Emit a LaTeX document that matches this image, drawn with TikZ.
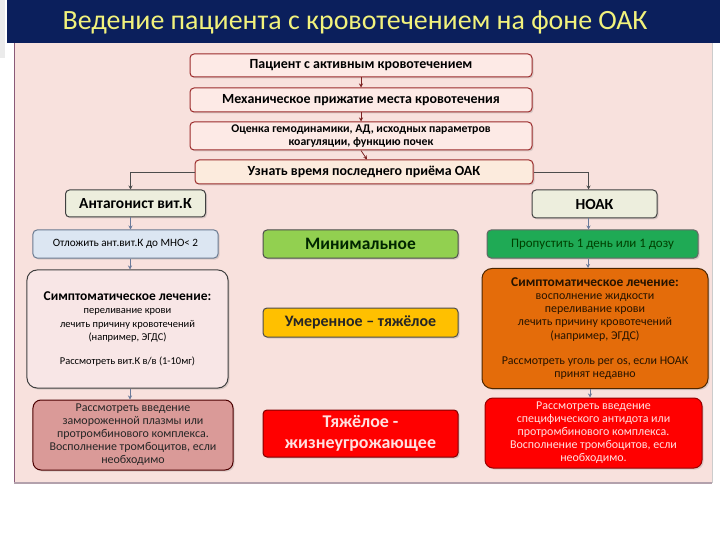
\documentclass[tikz,border=0pt]{standalone}
\usepackage{fontspec}
\setmainfont{Carlito}
\usetikzlibrary{arrows.meta,shadows}
\definecolor{banner}{HTML}{0B1F5C}
\definecolor{titletxt}{HTML}{F2F27C}
\definecolor{panel}{HTML}{F8E1DD}
\definecolor{panelline}{HTML}{8A5A78}
\definecolor{topfill}{HTML}{FDEAE6}
\definecolor{topline}{HTML}{9B2B2B}
\definecolor{askfill}{HTML}{FCEBDD}
\definecolor{drugfill}{HTML}{EDEEDD}
\definecolor{bluefill}{HTML}{DCE6F2}
\definecolor{bluebord}{HTML}{6A7A90}
\definecolor{greenfill}{HTML}{1FAA55}
\definecolor{minfill}{HTML}{92D050}
\definecolor{modfill}{HTML}{FFC000}
\definecolor{sevfill}{HTML}{FF0000}
\definecolor{lightsym}{HTML}{F8E6E6}
\definecolor{orangefill}{HTML}{E46C0A}
\definecolor{rosefill}{HTML}{DA9A98}
\definecolor{redtxt}{HTML}{FFE0E0}
\definecolor{arrcol}{HTML}{6A7A9A}
\tikzset{
  base/.style={draw, rounded corners=4bp, line width=1bp, align=center, inner sep=2bp,
    drop shadow={opacity=0.25, shadow xshift=1.5bp, shadow yshift=-1.5bp}},
  topbox/.style={base, fill=topfill, draw=topline, font=\fontsize{14}{15}\selectfont\bfseries},
  drugbox/.style={base, fill=drugfill, draw=black!75, font=\fontsize{15.5}{17}\selectfont\bfseries},
  sevbox/.style={base, draw=black!70, font=\fontsize{17.5}{19}\selectfont\bfseries},
  txtbox/.style={base, font=\fontsize{10.5}{13.5}\selectfont},
  bigbox/.style={base, rounded corners=10bp, font=\fontsize{10.5}{13.3}\selectfont},
  arr/.style={draw=arrcol, line width=0.8bp, -{Stealth[length=4bp,width=4bp]}},
  redarr/.style={draw=topline!80!black, line width=0.8bp, -{Stealth[length=4bp,width=4bp]}},
  branch/.style={draw=black!70, line width=0.8bp, -{Stealth[length=4bp,width=4bp]}}
}
\begin{document}
\begin{tikzpicture}[x=1bp,y=-1bp]
\useasboundingbox (0,0) rectangle (720,540);
\fill[white] (0,0) rectangle (720,540);
% left strip
\fill[black!8] (0,0) rectangle (5,58);
% panel
\fill[panel] (14,43) rectangle (712,483);
\draw[panelline, line width=1bp] (14,43) -- (14,483);
\draw[black!25!panelline!50, line width=2bp] (14,483) -- (712,483);
\draw[black!20, line width=1bp] (712,43) -- (712,483);
% banner
\fill[banner] (7,0) rectangle (720,43);
\node[text=titletxt, font=\fontsize{28}{30}\selectfont] (title) at (355,22) {Ведение пациента с кровотечением на фоне ОАК};

% top chain
\node[topbox, minimum width=342bp, minimum height=23bp] (b1) at (361,65.5) {Пациент с активным кровотечением};
\node[topbox, minimum width=342bp, minimum height=24bp] (b2) at (361,100) {Механическое прижатие места кровотечения};
\node[topbox, minimum width=342bp, minimum height=28bp, font=\fontsize{11.8}{13}\selectfont\bfseries] (b3) at (361,136) {Оценка гемодинамики, АД, исходных параметров\\коагуляции, функцию почек};
\node[topbox, fill=askfill, minimum width=338bp, minimum height=24bp] (b4) at (364,172) {Узнать время последнего приёма ОАК};

\draw[redarr] (b1.south) -- (b2.north);
\draw[redarr] (b2.south) -- (b3.north);
\draw[redarr] (b3.south) -- ([xshift=3bp]b4.north);

% drug boxes
\node[drugbox, minimum width=140bp, minimum height=27bp] (ant) at (135.5,203.5) {Антагонист вит.К};
\node[drugbox, minimum width=125bp, minimum height=28bp] (noak) at (594.5,204) {НОАК};

\draw[branch] (b4.west) -| ([xshift=-5bp]ant.north);
\draw[branch] (b4.east) -| ([xshift=-6bp]noak.north);

% second row
\node[txtbox, fill=bluefill, draw=bluebord, minimum width=185bp, minimum height=28bp, font=\fontsize{11.2}{13}\selectfont] (otl) at (125.5,244) {Отложить ант.вит.К до МНО< 2};
\node[txtbox, fill=greenfill, draw=black!60, minimum width=211bp, minimum height=28bp, text=black!75!green, font=\fontsize{13}{15}\selectfont] (prop) at (592.5,244) {Пропустить 1 день или 1 дозу};

% severity
\node[sevbox, fill=minfill, minimum width=195bp, minimum height=28bp, text=black!85!green] (smin) at (360.5,244) {Минимальное};
\node[sevbox, fill=modfill, minimum width=195bp, minimum height=29bp, font=\fontsize{16}{18}\selectfont\bfseries, text=black!85] (smod) at (360.5,322.5) {Умеренное – тяжёлое};
\node[sevbox, fill=sevfill, draw=red!50!black, minimum width=195bp, minimum height=47bp, font=\fontsize{18}{21}\selectfont\bfseries, text=redtxt] (ssev) at (360.5,433.5) {Тяжёлое -\\жизнеугрожающее};

% symptomatic
\node[bigbox, fill=lightsym, draw=black!75, minimum width=201bp, minimum height=118bp] (lsym) at (127.5,329) {{\fontsize{13.5}{13.5}\selectfont\bfseries Симптоматическое лечение:}\\переливание крови\\лечить причину кровотечений\\(например, ЭГДС)\\[11bp]Рассмотреть вит.К в/в (1-10мг)};
\node[bigbox, fill=orangefill, draw=black!70!orange, minimum width=226bp, minimum height=120bp, text=black!85!orange, font=\fontsize{12}{13.3}\selectfont] (rsym) at (595,328.5) {{\fontsize{13.5}{13.3}\selectfont\bfseries Симптоматическое лечение:}\\восполнение жидкости\\переливание крови\\лечить причину кровотечений\\(например, ЭГДС)\\[12bp]Рассмотреть уголь per os, если НОАК\\принят недавно};

% bottom
\node[bigbox, rounded corners=8bp, fill=rosefill, draw=black!70!red, minimum width=200bp, minimum height=70bp, font=\fontsize{12}{13}\selectfont, text=black!85] (lbot) at (133,435) {Рассмотреть введение\\замороженной плазмы или\\протромбинового комплекса.\\Восполнение тромбоцитов, если\\необходимо};
\node[bigbox, rounded corners=8bp, fill=sevfill, draw=red!60!black, minimum width=217bp, minimum height=70bp, font=\fontsize{12}{13}\selectfont, text=redtxt] (rbot) at (593.5,433) {Рассмотреть введение\\специфического антидота или\\протромбинового комплекса.\\Восполнение тромбоцитов, если\\необходимо.};

% column arrows
\draw[arr] ([xshift=-5bp]ant.south) -- ([xshift=-5bp]ant.south |- otl.north);
\draw[arr] ([xshift=4.5bp]otl.south) -- ([xshift=4.5bp]otl.south |- lsym.north);
\draw[arr] ([xshift=2.5bp]lsym.south) -- ([xshift=2.5bp]lsym.south |- lbot.north);
\draw[arr] ([xshift=-6bp]noak.south) -- ([xshift=-6bp]noak.south |- prop.north);
\draw[arr] ([xshift=-4.5bp]prop.south) -- ([xshift=-4.5bp]prop.south |- rsym.north);
\draw[arr] ([xshift=-5bp]rsym.south) -- ([xshift=-5bp]rsym.south |- rbot.north);
\end{tikzpicture}
\end{document}
